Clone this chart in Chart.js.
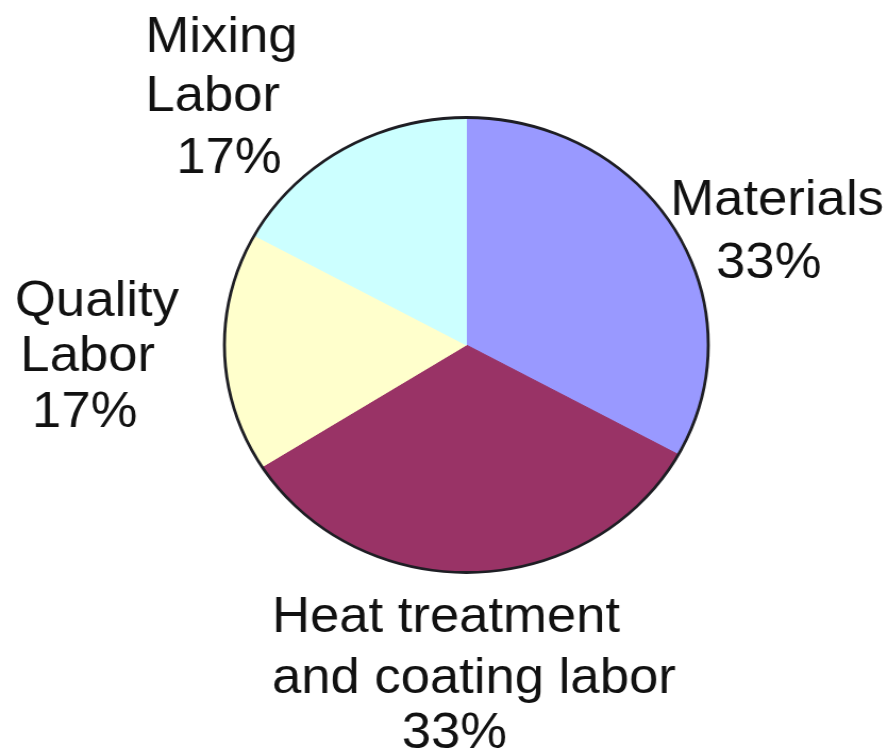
<!DOCTYPE html>
<html>
<head>
<meta charset="utf-8">
<script src="https://cdn.jsdelivr.net/npm/chart.js@4/dist/chart.umd.min.js"></script>
<style>
  html, body { margin: 0; padding: 0; background: #ffffff; overflow: hidden; }
  #wrap { width: 835px; height: 749px; transform: scaleX(1.0635); transform-origin: 0 0; }
  canvas { display: block; }
</style>
</head>
<body>
<div id="wrap"><canvas id="pie" width="835" height="749"></canvas></div>
<script>
const categories = ["Materials", "Heat treatment and coating labor", "Quality Labor", "Mixing Labor"];
const shares = [33, 33, 17, 17];
const sliceColors = ["#9999ff", "#993366", "#ffffcc", "#ccffff"];

// label text broken into lines; the percentage line is added from shares
const labelLines = [
  ["Materials"],
  ["Heat treatment", "and coating labor"],
  ["Quality", "Labor"],
  ["Mixing", "Labor"]
];

// offsets of each text line from the slice's outer mid point
const labelLayout = [
  [[-4, -14], [39, 49]],
  [[-190, 60], [-190, 121], [-68, 176]],
  [[-197, -36], [-192, 19], [-181, 75]],
  [[-186, -97], [-186, -38], [-157, 24]]
];

const pieDecor = {
  id: "pieDecor",
  afterDatasetsDraw(chart) {
    const ctx = chart.ctx;
    const arcs = chart.getDatasetMeta(0).data;
    const first = arcs[0].getProps(["x", "y", "outerRadius"], true);

    // dark outer rim only, no dividers between slices
    ctx.save();
    ctx.beginPath();
    ctx.arc(first.x, first.y, first.outerRadius, 0, Math.PI * 2);
    ctx.lineWidth = 2.8;
    ctx.strokeStyle = "#1e1e24";
    ctx.stroke();
    ctx.restore();

    ctx.save();
    ctx.font = '49.5px "Liberation Sans", Arial, sans-serif';
    ctx.fillStyle = "#111111";
    ctx.textAlign = "left";
    ctx.textBaseline = "alphabetic";
    arcs.forEach((arc, i) => {
      const p = arc.getProps(["x", "y", "startAngle", "endAngle", "outerRadius"], true);
      const mid = (p.startAngle + p.endAngle) / 2;
      const ax = p.x + Math.cos(mid) * p.outerRadius;
      const ay = p.y + Math.sin(mid) * p.outerRadius;
      const lines = labelLines[i].concat([shares[i] + "%"]);
      lines.forEach((txt, j) => {
        const off = labelLayout[i][j];
        ctx.fillText(txt, ax + off[0], ay + off[1]);
      });
    });
    ctx.restore();
  }
};

new Chart(document.getElementById("pie"), {
  type: "pie",
  data: {
    labels: categories,
    datasets: [{
      data: shares,
      backgroundColor: sliceColors,
      borderColor: sliceColors,
      borderWidth: 1
    }]
  },
  options: {
    responsive: false,
    animation: false,
    layout: { padding: { top: 117, bottom: 176, left: 200, right: 158 } },
    plugins: {
      legend: { display: false },
      tooltip: { enabled: false }
    }
  },
  plugins: [pieDecor]
});
</script>
</body>
</html>
